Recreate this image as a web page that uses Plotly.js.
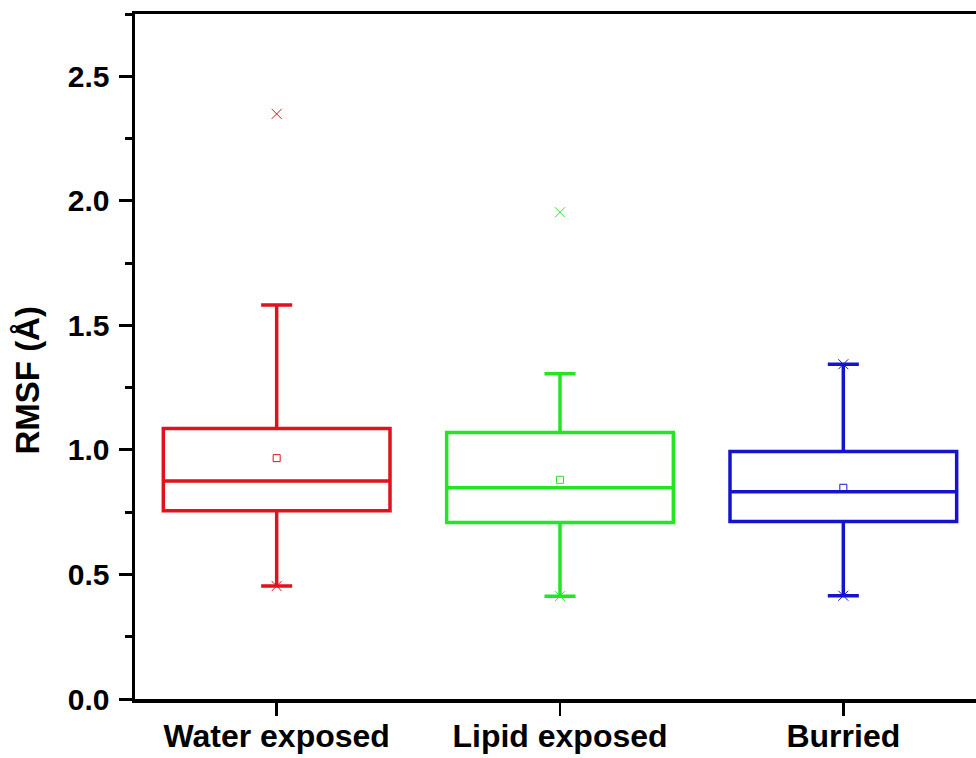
<!DOCTYPE html>
<html>
<head>
<meta charset="utf-8">
<script src="https://cdn.plot.ly/plotly-3.0.1.min.js"></script>
<style>
  html, body { margin: 0; padding: 0; overflow: hidden; background: #fff; }
  #chart { width: 990px; height: 758px; }
</style>
</head>
<body>
<div id="chart"></div>
<script>
// RMSF distribution per residue environment (Å)
const categories = ['Water exposed', 'Lipid exposed', 'Burried'];
const colors = ['#e0121c', '#22e622', '#1414cc'];

const q1 = [0.756, 0.709, 0.713];
const median = [0.875, 0.848, 0.832];
const q3 = [1.086, 1.070, 0.994];
const whiskerLow = [0.4535, 0.413, 0.4145];
const whiskerHigh = [1.582, 1.306, 1.344];
const meanVal = [0.967, 0.880, 0.848];
// extreme marks (1st / 99th percentile, shown as crosses)
const lowMark = [0.4535, 0.413, 0.4145];
const highMark = [2.349, 1.954, 1.344];

const yTitle = 'RMSF (Å)';

const fontBold = { family: 'Liberation Sans, Arial, sans-serif', weight: 'bold', color: '#000' };

const traces = [];
categories.forEach((cat, i) => {
  traces.push({
    type: 'box',
    x: [cat],
    q1: [q1[i]],
    median: [median[i]],
    q3: [q3[i]],
    lowerfence: [whiskerLow[i]],
    upperfence: [whiskerHigh[i]],
    boxpoints: false,
    width: 0.8,
    whiskerwidth: 0.137,
    fillcolor: 'rgba(0,0,0,0)',
    line: { color: colors[i], width: 3.5 },
    hoverinfo: 'skip',
    showlegend: false
  });
  traces.push({
    type: 'scatter',
    mode: 'markers',
    x: [cat],
    y: [meanVal[i]],
    marker: { symbol: 'square-open', size: 7, color: colors[i], line: { width: 1, color: colors[i] } },
    hoverinfo: 'skip',
    showlegend: false
  });
  traces.push({
    type: 'scatter',
    mode: 'markers',
    x: [cat, cat],
    y: [lowMark[i], highMark[i]],
    marker: { symbol: 'x-thin-open', size: 10, color: colors[i], line: { width: 1, color: colors[i] } },
    hoverinfo: 'skip',
    showlegend: false
  });
});

const layout = {
  width: 990,
  height: 758,
  margin: { l: 135, r: 5, t: 14, b: 59 },
  paper_bgcolor: '#fff',
  plot_bgcolor: '#fff',
  showlegend: false,
  xaxis: {
    type: 'category',
    range: [-0.5, 2.5],
    showgrid: false,
    zeroline: false,
    showline: true,
    linecolor: '#000',
    linewidth: 3.5,
    mirror: true,
    ticks: 'outside',
    ticklen: 13,
    tickwidth: 2.5,
    tickcolor: '#000',
    ticklabelstandoff: -7,
    tickfont: Object.assign({ size: 32 }, fontBold)
  },
  yaxis: {
    range: [0, 2.75],
    dtick: 0.5,
    tick0: 0,
    tickformat: '.1f',
    showgrid: false,
    zeroline: false,
    showline: true,
    linecolor: '#000',
    linewidth: 3.5,
    ticks: 'outside',
    ticklen: 13,
    tickwidth: 3,
    tickcolor: '#000',
    ticklabelstandoff: 3,
    minor: { dtick: 0.25, ticks: 'outside', ticklen: 7, tickwidth: 3, tickcolor: '#000' },
    tickfont: Object.assign({ size: 30 }, fontBold)
  },
  annotations: [{
    text: yTitle,
    textangle: -90,
    xref: 'paper',
    yref: 'paper',
    x: -0.127,
    y: 0.465,
    xanchor: 'center',
    yanchor: 'middle',
    showarrow: false,
    font: Object.assign({ size: 33 }, fontBold)
  }]
};

Plotly.newPlot('chart', traces, layout, { staticPlot: true, displayModeBar: false });
</script>
</body>
</html>
